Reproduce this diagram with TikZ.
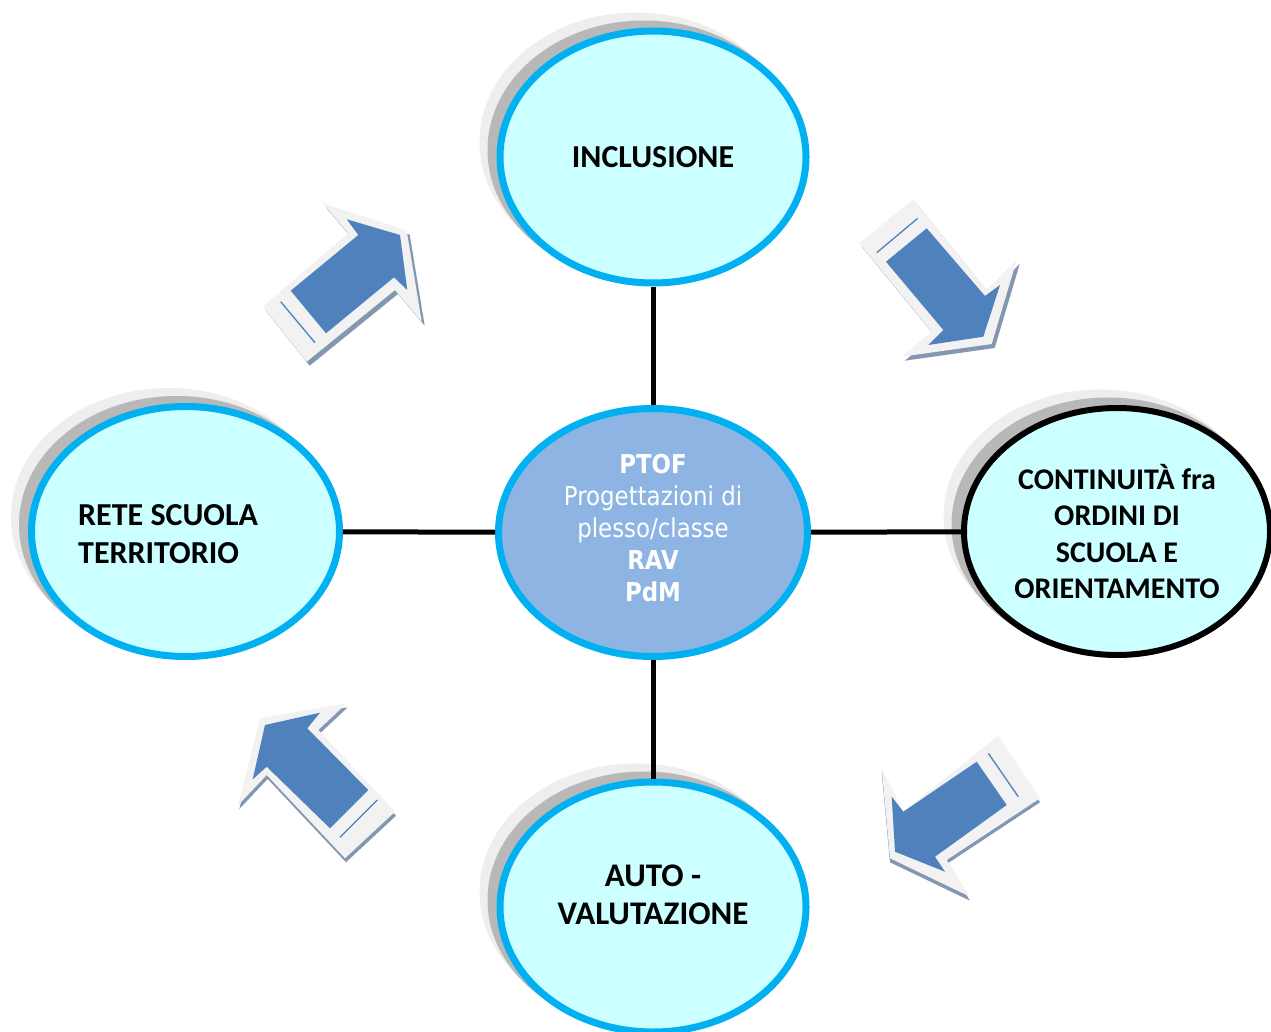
\documentclass[tikz,border=0pt]{standalone}
\usepackage{fontspec}
\setmainfont{Carlito}
\newfontfamily\tah[FakeStretch=0.88]{DejaVu Sans}
\usetikzlibrary{shapes.geometric,shadows}
\definecolor{cyanfill}{HTML}{CCFFFF}
\definecolor{cyanline}{HTML}{00B0F0}
\definecolor{ctrfill}{HTML}{8EB4E3}
\definecolor{arrblue}{HTML}{4F81BD}
\definecolor{arrlight}{HTML}{F2F2F2}
\definecolor{arrgray}{HTML}{8497B0}
\definecolor{shadlight}{HTML}{EEEEEE}
\definecolor{shaddark}{HTML}{B8B8B8}
\begin{document}
\begin{tikzpicture}[x=1pt,y=-1pt,
  bubble/.style={ellipse, inner sep=0pt, fill=cyanfill, draw=cyanline, line width=7pt,
    font=\bfseries\fontsize{32}{36.5}\selectfont, align=center, text=black},
  shad/.style={general shadow={fill=shadlight, draw=shadlight, line width=7pt, shadow xshift=-17pt, shadow yshift=15pt},
    general shadow={fill=shaddark, draw=shaddark, line width=7pt, shadow xshift=-9pt, shadow yshift=7pt}},
  lbl/.style={font=\bfseries\fontsize{32}{38}\selectfont, text=black, inner sep=0pt},
  conn/.style={line width=5pt, black},
  arrext/.style={fill=arrgray, draw=none},
  arrout/.style={fill=arrlight, draw=none},
  arrin/.style={fill=arrblue, draw=none},
  arrln/.style={draw=arrblue, line width=1.3pt}]
\useasboundingbox (0,0) rectangle (1271,1032);
\fill[white] (0,0) rectangle (1271,1032);

% ellipses
\node[bubble, shad, minimum width=306pt, minimum height=252pt] (incl) at (653,157) {INCLUSIONE};
\node[bubble, shad, minimum width=308pt, minimum height=250pt] (rete) at (185.5,531.5) {};
\node[bubble, fill=ctrfill, minimum width=309pt, minimum height=248pt, text=white,
      font=\tah\fontsize{26}{32}\selectfont] (ptof) at (653,532.5)
      {\textbf{PTOF}\\Progettazioni di\\plesso/classe\\\textbf{RAV}\\\textbf{PdM}\\[-22pt]};
\node[bubble, shad, draw=black, line width=6pt, minimum width=306pt, minimum height=247pt,
      font=\bfseries\fontsize{30}{36.5}\selectfont] (cont) at (1117,531.5)
      {CONTINUITÀ fra\\ORDINI DI\\SCUOLA E\\ORIENTAMENTO};
\node[bubble, shad, minimum width=306pt, minimum height=250pt] (auto) at (653,907) {};
\node[lbl, anchor=west, align=left] (reteT) at (78,534) {RETE SCUOLA\\TERRITORIO};
\node[lbl, align=center, font=\bfseries\fontsize{33}{38}\selectfont] (autoT) at (653,895) {AUTO -\\VALUTAZIONE};

% connectors
\draw[conn] (incl) -- (ptof);
\draw[conn] (rete) -- (ptof);
\draw[conn] (ptof) -- (cont);
\draw[conn] (ptof) -- (auto);

% arrow 1 (up-right)
\fill[arrext, shift={(3,4)}] (322.7,203.3) -- (406.7,230.7) -- (421.7,321.7) -- (395,290) -- (306.7,361.7) -- (262.7,306.7) -- (348.3,233.3) -- cycle;
\fill[arrout] (322.7,203.3) -- (406.7,230.7) -- (421.7,321.7) -- (395,290) -- (306.7,361.7) -- (262.7,306.7) -- (348.3,233.3) -- cycle;
\fill[arrin] (346.7,219.3) -- (400,235) -- (407.3,290) -- (394,277.3) -- (326,333.3) -- (290.7,290.7) -- (358.3,235) -- cycle;
\draw[arrln] (280.7,301.7) -- (315,342.7);

% arrow 2 (down-right)
\fill[arrext, shift={(3,4)}] (913.3,199.3) -- (859.3,243.3) -- (931.7,331.7) -- (901.7,356.7) -- (991.7,344) -- (1016.7,260) -- (986.7,290) -- cycle;
\fill[arrout] (913.3,199.3) -- (859.3,243.3) -- (931.7,331.7) -- (901.7,356.7) -- (991.7,344) -- (1016.7,260) -- (986.7,290) -- cycle;
\fill[arrin] (926.7,228.3) -- (886,261.7) -- (943.3,330) -- (928.3,345) -- (983.3,336.7) -- (1000,285) -- (985,296) -- cycle;
\draw[arrln] (876.7,252.7) -- (917.7,218.3);

% arrow 3 (up-left)
\fill[arrext, shift={(1,4)}] (346.7,703.3) -- (260,718.3) -- (238.3,805) -- (266.7,775) -- (345,858.3) -- (395,811.7) -- (318.3,730) -- cycle;
\fill[arrout] (346.7,703.3) -- (260,718.3) -- (238.3,805) -- (266.7,775) -- (345,858.3) -- (395,811.7) -- (318.3,730) -- cycle;
\fill[arrin] (320,712.7) -- (265,725) -- (252.7,779.3) -- (266.7,766.7) -- (330,828.3) -- (368.3,790) -- (307.3,728.3) -- cycle;
\draw[arrln] (340,837.3) -- (377.3,800);

% arrow 4 (down-left)
\fill[arrext, shift={(0,4)}] (998.3,736) -- (1040,798.3) -- (946.7,860) -- (970,896.7) -- (890,858.3) -- (881.7,768.3) -- (903.3,811.7) -- cycle;
\fill[arrout] (998.3,736) -- (1040,798.3) -- (946.7,860) -- (970,896.7) -- (890,858.3) -- (881.7,768.3) -- (903.3,811.7) -- cycle;
\fill[arrin] (976.7,761.7) -- (1006.7,805) -- (935,856.7) -- (945,871.7) -- (895,851.7) -- (891.7,796.7) -- (903.3,811.7) -- cycle;
\draw[arrln] (988.3,753.3) -- (1018.3,796.7);
\end{tikzpicture}
\end{document}
